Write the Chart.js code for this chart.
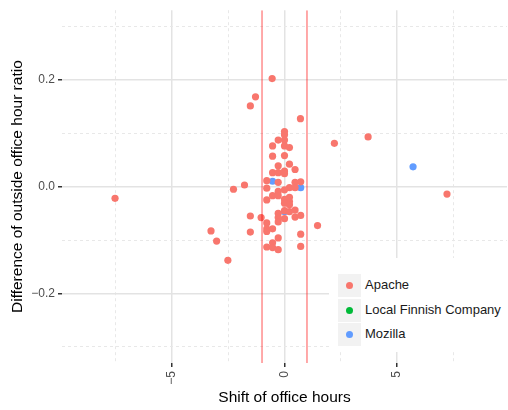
<!DOCTYPE html>
<html>
<head>
<meta charset="utf-8">
<script src="https://cdn.jsdelivr.net/npm/chart.js@4/dist/chart.umd.min.js"></script>
<style>
  body { margin: 0; background: #fff; font-family: "Liberation Sans", Arial, sans-serif; }
  #wrap { position: relative; width: 508px; height: 410px; }
  #legend {
    position: absolute; left: 329px; top: 258px; width: 179px; height: 94px;
    background: #fff;
  }
  .row { position: absolute; left: 9px; height: 23px; }
  .key { position: absolute; left: 0; top: 0; width: 23px; height: 23px; background: #f2f2f2; }
  .dot { position: absolute; left: 8px; top: 8px; width: 7px; height: 7px; border-radius: 50%; }
  .lab { position: absolute; left: 27px; top: 3px; font-size: 13px; color: #1a1a1a; white-space: nowrap; }
</style>
</head>
<body>
<div id="wrap">
  <canvas id="scatterChart" width="508" height="410"></canvas>
  <div id="legend"></div>
</div>
<script>
// =============================
// DATA
// =============================
const groups = ['Apache', 'Local Finnish Company', 'Mozilla'];
const groupColors = ['#F8766D', '#00BA38', '#619CFF'];

const apacheX = [
  -0.55, -1.29, -1.52, 0.71, 0.0, 0.0, 2.22, 3.72, -0.28, 0.0,
  -0.53, 0.0, 0.22, -0.53, 0.0, 0.22, -0.28, 0.47, -0.53, -0.28,
  0.0, 0.0, -0.79, -0.28, -1.78, -2.27, 0.47, 0.72, -0.79, 0.22,
  0.47, 0.0, -0.28, -0.53, -0.28, 0.22, 0.0, -0.79, 0.22, 0.0,
  0.22, 0.0, 0.22, 0.47, -0.28, -1.52, -1.04, -0.28, 0.0, 0.47,
  0.72, -0.28, -0.79, 1.47, -3.27, -0.53, -0.79, -0.79, -1.52, -3.02,
  0.72, -0.28, -0.53, -0.79, -0.53, -0.28, 0.72, -2.52, -7.54, 7.23
];
const apacheY = [
  0.202, 0.168, 0.151, 0.127, 0.103, 0.097, 0.081, 0.093, 0.087, 0.087,
  0.076, 0.076, 0.073, 0.057, 0.058, 0.042, 0.039, 0.032, 0.026, 0.026,
  0.029, 0.024, 0.011, 0.008, 0.003, -0.005, 0.008, 0.009, -0.003, -0.002,
  -0.002, -0.006, -0.009, -0.017, -0.017, -0.020, -0.024, -0.025, -0.028, -0.031,
  -0.034, -0.045, -0.047, -0.044, -0.050, -0.055, -0.058, -0.058, -0.060, -0.057,
  -0.054, -0.066, -0.068, -0.073, -0.083, -0.079, -0.079, -0.084, -0.085, -0.102,
  -0.089, -0.096, -0.105, -0.113, -0.114, -0.118, -0.112, -0.138, -0.022, -0.014
];

const finnishX = [];
const finnishY = [];

const mozillaX = [-0.53, 0.72, 0.0, 5.72];
const mozillaY = [0.010, -0.002, -0.047, 0.037];

// vertical reference lines (shift of office hours)
const cutoffs = [-1, 1];

const xTicks = [-7.5, -5, -2.5, 0, 2.5, 5, 7.5];
const xMajor = [-5, 0, 5];
const yTicks = [-0.3, -0.2, -0.1, 0, 0.1, 0.2, 0.3];
const yMajor = [-0.2, 0, 0.2];

const xRange = [-9.9, 9.9];
const yRange = [-0.33, 0.33];

// =============================
// HELPERS
// =============================
const toPoints = (xs, ys) => xs.map((x, i) => ({ x, y: ys[i] }));
const isMajor = (list, v) => list.some(m => Math.abs(m - v) < 1e-9);
const fmtNum = (v, d) => (v < 0 ? '\u2212' : '') + Math.abs(v).toFixed(d);

// =============================
// LEGEND (HTML)
// =============================
const legendEl = document.getElementById('legend');
groups.forEach((g, i) => {
  const row = document.createElement('div');
  row.className = 'row';
  row.style.top = (16 + i * 24.5) + 'px';
  row.innerHTML = '<div class="key"><div class="dot" style="background:' + groupColors[i] +
    '"></div></div><div class="lab">' + g + '</div>';
  legendEl.appendChild(row);
});

// =============================
// CHART
// =============================
const lineSets = cutoffs.map(c => ({
  type: 'line',
  data: [{ x: c, y: yRange[0] }, { x: c, y: yRange[1] }],
  borderColor: 'rgba(255,0,0,0.45)',
  borderWidth: 1.5,
  pointRadius: 0,
  order: 0
}));

const pointSet = (label, xs, ys, color, order) => ({
  label,
  data: toPoints(xs, ys),
  backgroundColor: color,
  borderWidth: 0,
  pointRadius: 3.6,
  pointHoverRadius: 3.6,
  order
});

Chart.defaults.font.family = '"Liberation Sans", Arial, sans-serif';

const ctx = document.getElementById('scatterChart').getContext('2d');
window.scatterChart = new Chart(ctx, {
  type: 'scatter',
  data: {
    datasets: [
      ...lineSets,
      pointSet(groups[0], apacheX, apacheY, groupColors[0], 1),
      pointSet(groups[1], finnishX, finnishY, groupColors[1], 2),
      pointSet(groups[2], mozillaX, mozillaY, groupColors[2], 3)
    ]
  },
  options: {
    responsive: false,
    animation: false,
    // no extra room for point radius, panel edges are fixed below
    layout: { autoPadding: false, padding: { top: 10, right: 1, left: 0, bottom: 0 } },
    plugins: {
      legend: { display: false },
      tooltip: { enabled: false }
    },
    scales: {
      x: {
        type: 'linear',
        min: xRange[0],
        max: xRange[1],
        afterBuildTicks: s => { s.ticks = xTicks.map(v => ({ value: v })); },
        afterFit: s => { s.height = 47; },
        ticks: {
          minRotation: 90,
          maxRotation: 90,
          padding: 4,
          color: '#4d4d4d',
          font: { size: 12 },
          autoSkip: false,
          callback: v => isMajor(xMajor, v) ? fmtNum(v, 0) : ''
        },
        grid: {
          color: c => isMajor(xMajor, c.tick.value) ? '#e3e3e3' : '#e8e8e8',
          lineWidth: c => isMajor(xMajor, c.tick.value) ? 1.5 : 1,
          tickLength: 4,
          tickColor: c => isMajor(xMajor, c.tick.value) ? '#333' : 'rgba(0,0,0,0)',
          tickWidth: 1.5
        },
        border: {
          display: false,
          dash: c => isMajor(xMajor, c.tick.value) ? [] : [3, 3]
        },
        title: {
          display: true,
          text: 'Shift of office hours',
          color: '#000',
          font: { size: 15.5 },
          padding: { top: 0, bottom: 3 }
        }
      },
      y: {
        type: 'linear',
        min: yRange[0],
        max: yRange[1],
        afterBuildTicks: s => { s.ticks = yTicks.map(v => ({ value: v })); },
        afterFit: s => { s.width = 62; },
        ticks: {
          padding: 3,
          color: '#4d4d4d',
          font: { size: 12 },
          autoSkip: false,
          callback: v => isMajor(yMajor, v) ? fmtNum(v, 1) : ''
        },
        grid: {
          color: c => isMajor(yMajor, c.tick.value) ? '#e3e3e3' : '#e8e8e8',
          lineWidth: c => isMajor(yMajor, c.tick.value) ? 1.5 : 1,
          tickLength: 4,
          tickColor: c => isMajor(yMajor, c.tick.value) ? '#333' : 'rgba(0,0,0,0)',
          tickWidth: 1.5
        },
        border: {
          display: false,
          dash: c => isMajor(yMajor, c.tick.value) ? [] : [3, 3]
        },
        title: {
          display: true,
          text: 'Difference of outside office hour ratio',
          color: '#000',
          font: { size: 15.5 },
          padding: { top: 8, bottom: 0 }
        }
      }
    }
  }
});
</script>
</body>
</html>
